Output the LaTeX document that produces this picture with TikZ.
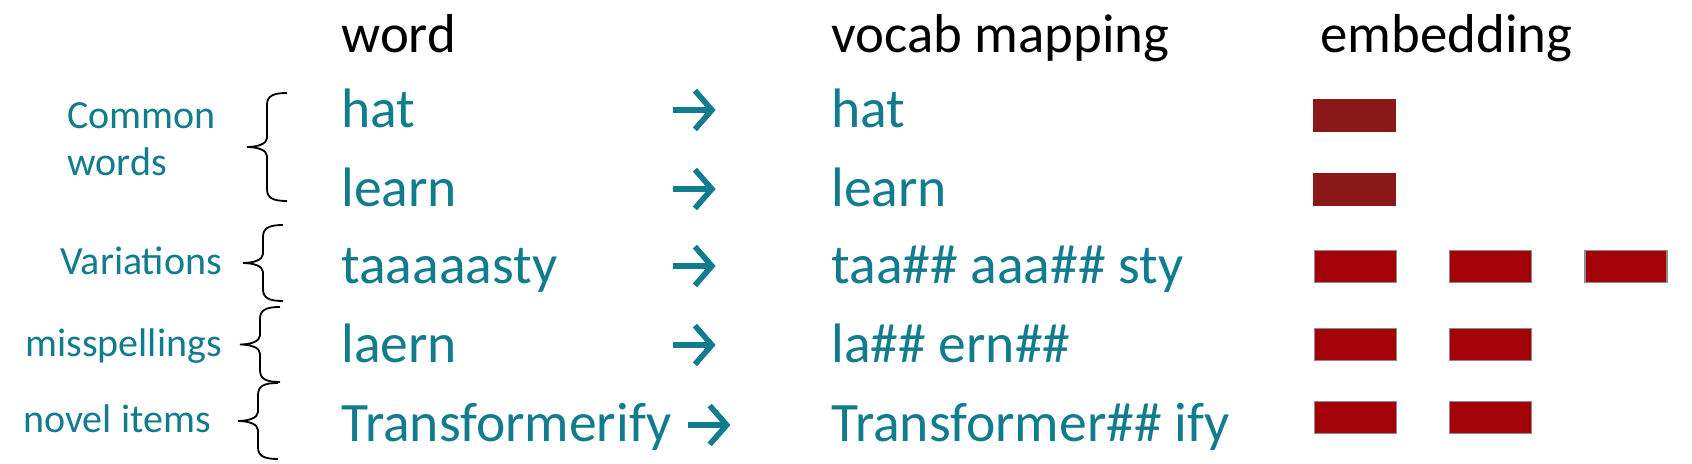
\documentclass[tikz,border=0pt]{standalone}
\usepackage{fontspec}
\setmainfont{Carlito}
\usetikzlibrary{positioning}
\definecolor{tealtext}{RGB}{16,124,142}
\definecolor{embdark}{RGB}{139,24,24}
\definecolor{embred}{RGB}{163,2,8}
\tikzset{
  head/.style  = {anchor=base west, inner sep=0pt, font=\fontsize{27.4}{32}\selectfont, text=black},
  word/.style  = {anchor=base west, inner sep=0pt, font=\fontsize{27.8}{32}\selectfont, text=tealtext},
  group/.style = {inner sep=0pt, font=\fontsize{20}{23.5}\selectfont, text=tealtext, align=left},
  vec/.style   = {draw=gray!90, line width=0.6pt, fill=embred, minimum width=41pt, minimum height=16pt, inner sep=0pt, anchor=north west},
  vecdark/.style = {vec, draw=embdark, fill=embdark},
  tipbox/.style  = {inner sep=0pt, minimum width=20.5pt, minimum height=19pt},
  tipline/.style = {draw=tealtext, line width=2.8pt, miter limit=4},
  curly/.style = {draw, line width=0.9pt},
}
% brace: right end x, top y, bottom y
\newcommand\groupbrace[3]{%
  \draw [curly] (#1,#2) .. controls (#1-14,#2) and (#1-20,#2+3) .. (#1-20,#2+12)
    -- (#1-20,{(#2+#3)/2-9}) .. controls (#1-20,{(#2+#3)/2-3}) and (#1-30,{(#2+#3)/2}) .. (#1-40,{(#2+#3)/2})
    .. controls (#1-30,{(#2+#3)/2}) and (#1-20,{(#2+#3)/2+3}) .. (#1-20,{(#2+#3)/2+9})
    -- (#1-20,#3-12) .. controls (#1-20,#3-3) and (#1-14,#3) .. (#1,#3);}

\begin{document}
\begin{tikzpicture}[x=0.5pt, y=-0.5pt, node distance=26pt]
    \useasboundingbox (0,0) rectangle (1692,464);

    \node (h1) [head] at (341,53)  {word};
    \node (h2) [head] at (831,53)  {vocab mapping};
    \node (h3) [head] at (1320,53) {embedding};

    \node (w1) [word] at (341,128) {hat};
    \node (w2) [word] at (341,207) {learn};
    \node (w3) [word] at (341,284) {taaaaasty};
    \node (w4) [word] at (341,363) {laern};
    \node (w5) [word] at (341,442) {Transformerify};

    \node (a1) [tipbox] at (694,110) {};
    \node (a2) [tipbox] at (694,189) {};
    \node (a3) [tipbox] at (694,266) {};
    \node (a4) [tipbox] at (694,345) {};
    \node (a5) [tipbox, right=8pt of w5.base east, yshift=8.5pt] {};
    \foreach \a in {a1,a2,a3,a4,a5} {
        \draw [tipline] (\a.west) -- ([xshift=-1pt]\a.east);
        \draw [tipline] ([xshift=-10pt]\a.north east) -- ([xshift=-1.5pt]\a.east) -- ([xshift=-10pt]\a.south east);
    }

    \node (m1) [word] at (831,128) {hat};
    \node (m2) [word] at (831,207) {learn};
    \node (m3) [word] at (831,284) {taa\#\# aaa\#\# sty};
    \node (m4) [word] at (831,363) {la\#\# ern\#\#};
    \node (m5) [word] at (831,442) {Transformer\#\# ify};

    \node (e11) [vecdark] at (1313,99) {};
    \node (e21) [vecdark] at (1313,173) {};
    \node (e31) [vec] at (1314,250) {};
    \node (e32) [vec, right=of e31] {};
    \node (e33) [vec, right=of e32] {};
    \node (e41) [vec] at (1314,328) {};
    \node (e42) [vec, right=of e41] {};
    \node (e51) [vec] at (1314,401) {};
    \node (e52) [vec, right=of e51] {};

    \node (g1) [group, anchor=west] at (67,139) {Common\\words};
    \node (g2) [group, anchor=base west] at (60,275) {Variations};
    \node (g3) [group, anchor=base west] at (25,357) {misspellings};
    \node (g4) [group, anchor=base west] at (23,433) {novel items};

    \groupbrace{287}{93}{201}
    \groupbrace{283}{225}{301}
    \groupbrace{280}{307}{382}
    \groupbrace{278}{383}{459}
\end{tikzpicture}
\end{document}
